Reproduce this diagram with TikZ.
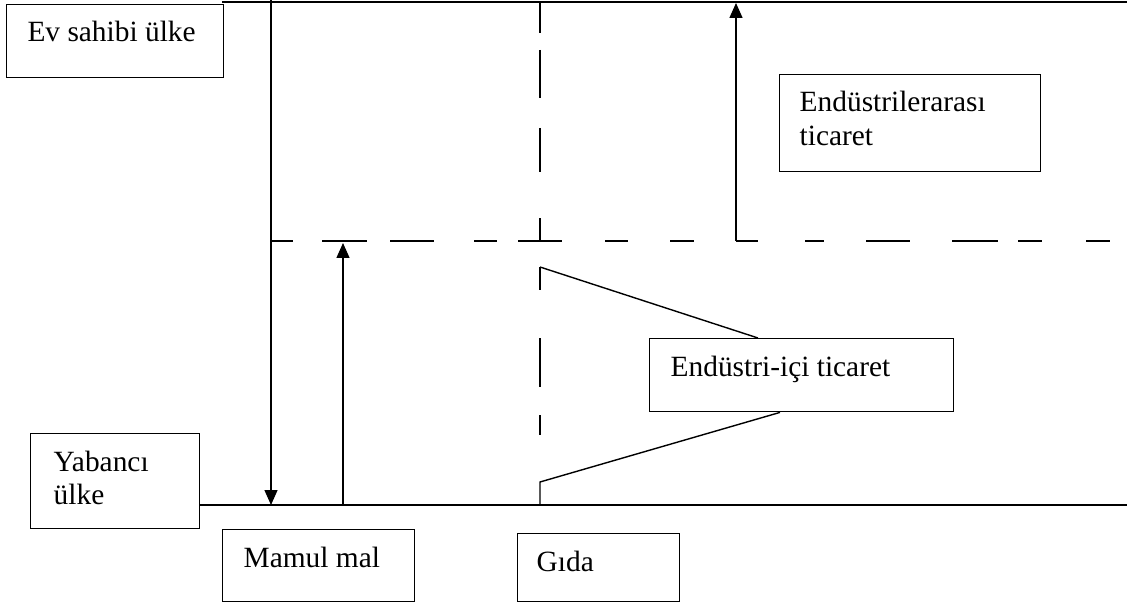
\documentclass[tikz,border=0pt]{standalone}
\usepackage{fontspec}
\setmainfont{Liberation Serif}
\usetikzlibrary{arrows.meta,calc}
\begin{document}
\begin{tikzpicture}[x=1bp,y=-1bp,
  line width=1.4bp,
  box/.style={draw,rectangle,inner sep=0pt,anchor=north west},
  lbl/.style={anchor=base west,inner sep=0pt,font=\fontsize{29.5}{34}\selectfont},
  arr/.style={-{Triangle[length=15bp,width=13bp]}},
  hdash/.style={dash pattern=on 22bp off 29bp on 45bp off 23bp on 44bp off 40bp on 23bp off 21bp on 44bp off 43bp on 23bp off 42bp on 24bp off 42bp on 22bp off 47bp on 19bp off 42bp on 44bp off 42bp on 46bp off 20bp on 24bp off 44bp on 24bp off 100bp},
  vdash/.style={dash pattern=on 31bp off 17bp on 48bp off 30bp on 44bp off 46bp on 24bp off 25bp on 23bp off 48bp on 49bp off 28bp on 20bp off 100bp}]
\useasboundingbox (0,0) rectangle (1127,605);

% boxes
\node[box,minimum width=217bp,minimum height=73bp] (ev) at (5.7,4) {};
\node[lbl] (evt) at (26.8,42) {Ev sahibi ülke};
\node[box,minimum width=261bp,minimum height=97bp] (inter) at (779,74) {};
\node[lbl] (intert) at (799,112) {\vtop{\hbox{Endüstrilerarası}\hbox{ticaret}}};
\node[box,minimum width=304bp,minimum height=73bp] (ici) at (649,338) {};
\node[lbl] (icit) at (670,376) {Endüstri-içi ticaret};
\node[box,minimum width=169bp,minimum height=95bp] (yab) at (30,433) {};
\node[lbl] (yabt) at (53,471) {\vtop{\hbox{Yabancı}\hbox{ülke}}};
\node[box,minimum width=192bp,minimum height=72bp] (mam) at (222,529) {};
\node[lbl] (mamt) at (243,567) {Mamul mal};
\node[box,minimum width=162bp,minimum height=68bp] (gida) at (517,533) {};
\node[lbl] (gidat) at (536,571) {Gıda};

% reference points
\coordinate (topL) at (222,2);
\coordinate (topR) at (1127,2);
\coordinate (botR) at (1127,505);
\coordinate (botL) at (199,505);
\coordinate (dTop) at (271,0);
\coordinate (dBot) at (271,505);
\coordinate (uBot) at (343,505);
\coordinate (uTop) at (343,243);
\coordinate (hL) at (271,241);
\coordinate (hR) at (1110,241);
\coordinate (iBot) at (736,241);
\coordinate (iTop) at (736,3);
\coordinate (vTop) at (540,2);
\coordinate (vBot) at (540,435);
\coordinate (t1) at (540,267);
\coordinate (t2) at (540,482);
\coordinate (t3) at (540,505);

% axes
\draw[line width=1.8bp] (topL) -- (topR);
\draw (yab.east |- botL) -- (botR);
\draw[hdash] (hL) -- (hR);
\draw[vdash] (vTop) -- (vBot);

% arrows
\draw[arr] (dTop) -- (dBot);
\draw[arr] (uBot) -- (uTop);
\draw[arr] (iBot) -- (iTop);

% intra-industry bracket
\draw (t1) -- ($(ici.north west)+(109,0)$);
\draw ($(ici.south west)+(131,0)$) -- (t2) -- (t3);
\end{tikzpicture}
\end{document}
